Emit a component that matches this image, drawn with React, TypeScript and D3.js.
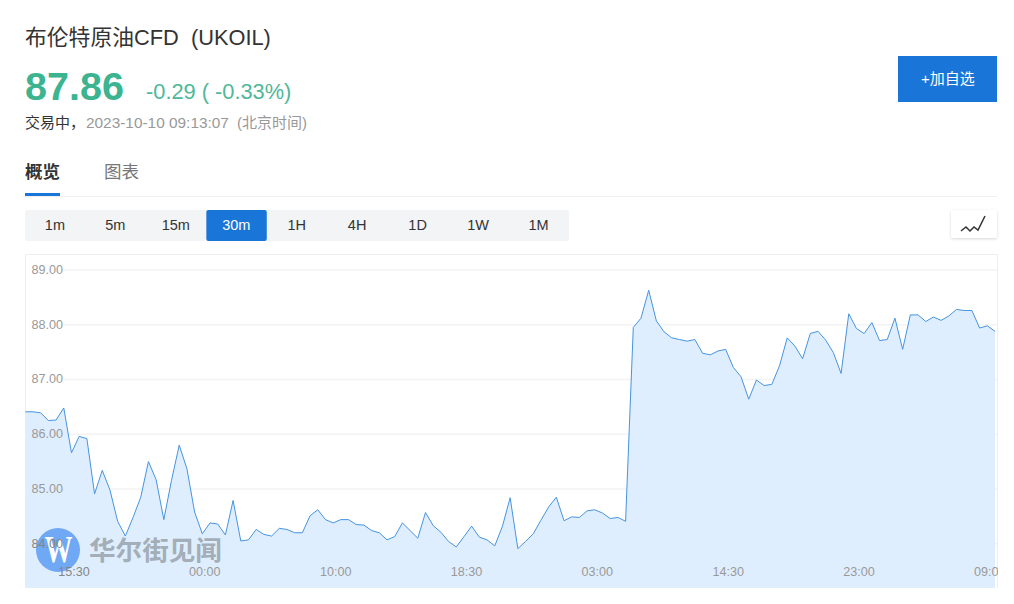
import React from 'react';
import * as d3 from 'd3';

const SANS = '"Liberation Sans", "Noto Sans CJK SC", sans-serif';

const PERIODS = ['1m', '5m', '15m', '30m', '1H', '4H', '1D', '1W', '1M'];
const ACTIVE_PERIOD = '30m';
const Y_TICKS = [84, 85, 86, 87, 88, 89];
const TIME_LABELS = ['15:30', '00:00', '10:00', '18:30', '03:00', '14:30', '23:00', '09:00'];
const TIME_INDEXES = [6, 23, 40, 57, 74, 91, 108, 125];

// 30 minute closes
const PRICES = [
  86.41, 86.41, 86.39, 86.25, 86.26, 86.48, 85.66, 85.96, 85.92, 84.91,
  85.34, 84.98, 84.41, 84.14, 84.48, 84.85, 85.50, 85.17, 84.44, 85.16,
  85.80, 85.37, 84.58, 84.18, 84.38, 84.36, 84.16, 84.79, 84.05, 84.07,
  84.26, 84.17, 84.14, 84.28, 84.26, 84.20, 84.20, 84.51, 84.62, 84.44,
  84.38, 84.44, 84.44, 84.35, 84.34, 84.24, 84.20, 84.07, 84.13, 84.38,
  84.24, 84.10, 84.57, 84.33, 84.21, 84.04, 83.94, 84.13, 84.32, 84.12,
  84.07, 83.96, 84.32, 84.84, 83.91, 84.04, 84.18, 84.43, 84.67, 84.85,
  84.42, 84.49, 84.48, 84.60, 84.62, 84.56, 84.46, 84.48, 84.41, 87.95,
  88.12, 88.63, 88.07, 87.87, 87.76, 87.73, 87.70, 87.73, 87.48, 87.45,
  87.52, 87.55, 87.22, 87.05, 86.64, 86.99, 86.89, 86.91, 87.25, 87.76,
  87.61, 87.38, 87.84, 87.88, 87.72, 87.49, 87.11, 88.20, 87.93, 87.84,
  88.04, 87.71, 87.73, 88.12, 87.55, 88.18, 88.18, 88.06, 88.14, 88.08,
  88.16, 88.28, 88.26, 88.26, 87.94, 87.98, 87.88,
];

const BLUE = '#1976d8';
const GREEN = '#3cb48f';

export default function App() {
  const BOX = { left: 25, right: 998, top: 254, bottom: 588 };

  const x = d3.scalePoint<number>()
    .domain(d3.range(PRICES.length))
    .range([25.3, 995]);
  const y = d3.scaleLinear().domain([84, 89]).range([543.7, 270]);

  const line = d3.line<number>()
    .x((_, i) => x(i) as number)
    .y(d => y(d));
  const area = d3.area<number>()
    .x((_, i) => x(i) as number)
    .y0(BOX.bottom)
    .y1(d => y(d));

  const periodX = d3.scaleBand<string>()
    .domain(PERIODS)
    .range([25, 569]);

  return (
    <svg width={1014} height={604} style={{ position: 'absolute', left: 0, top: 0, display: 'block', fontFamily: SANS }}>
      <defs>
        <clipPath id="plot">
          <rect x={BOX.left} y={BOX.top} width={BOX.right - BOX.left} height={BOX.bottom - BOX.top} />
        </clipPath>
        <filter id="soft" x="-20%" y="-20%" width="140%" height="150%">
          <feDropShadow dx="0" dy="1" stdDeviation="1.5" floodColor="#000" floodOpacity="0.16" />
        </filter>
      </defs>

      {/* header */}
      <text x={25} y={45} fontSize={21.8} fill="#333" style={{ whiteSpace: 'pre' }}>布伦特原油CFD  (UKOIL)</text>
      <text x={25} y={100} fontSize={39.5} fontWeight={700} fill={GREEN}>87.86</text>
      <text x={146} y={99} fontSize={21.8} fill="#4fb898">-0.29 ( -0.33%)</text>
      <text x={25} y={128} fontSize={15} fill="#333">交易中，</text>
      <text x={86} y={128} fontSize={15.4} fill="#999">2023-10-10 09:13:07</text>
      <text x={237} y={128} fontSize={15} fill="#999">(北京时间)</text>

      <rect x={898} y={56} width={99} height={46} fill={BLUE} />
      <text x={948} y={84} fontSize={15} fill="#fff" textAnchor="middle">+加自选</text>

      {/* tabs */}
      <text x={25} y={178} fontSize={17.5} fontWeight={700} fill="#333">概览</text>
      <text x={104} y={178} fontSize={17.5} fill="#777">图表</text>
      <line x1={25} x2={997} y1={196.5} y2={196.5} stroke="#f0f0f0" />
      <rect x={25} y={193} width={35} height={3} fill={BLUE} />

      {/* period buttons */}
      <rect x={25} y={210} width={544} height={31} rx={2} fill="#f2f4f6" />
      {PERIODS.map(p => {
        const bx = periodX(p) as number;
        const bw = periodX.bandwidth();
        return (
          <g key={p}>
            {p === ACTIVE_PERIOD && <rect x={bx} y={210} width={bw} height={31} rx={2} fill={BLUE} />}
            <text x={bx + bw / 2 - 0.3} y={230} fontSize={14.5} textAnchor="middle" fill={p === ACTIVE_PERIOD ? '#fff' : '#333'}>{p}</text>
          </g>
        );
      })}

      {/* chart type toggle */}
      <rect x={951} y={210} width={46} height={28} rx={2} fill="#fff" filter="url(#soft)" />
      <polyline points="961,231 966,227 970,231 974,227 978,230 985,216" fill="none" stroke="#333" strokeWidth={1.5} />

      {/* chart frame */}
      <path d={`M${BOX.left + 0.5},${BOX.bottom} V${BOX.top + 0.5} H${BOX.right - 0.5} V${BOX.bottom}`} fill="none" stroke="#eeeeee" />

      {Y_TICKS.map(t => (
        <line key={t} x1={64} x2={BOX.right - 1} y1={y(t)} y2={y(t)} stroke="#f3f3f3" strokeWidth={1.5} />
      ))}

      <path d={area(PRICES) as string} fill="#dfeefe" />
      <path d={line(PRICES) as string} fill="none" stroke="#4694e0" strokeWidth={1} />

      {/* watermark */}
      <circle cx={58} cy={550} r={22} fill="#6fa8f4" />
      <text x={58.5} y={562} fontSize={37} fontWeight={700} fontFamily='"Liberation Serif", serif' fill="#fff" textAnchor="middle" textLength={28} lengthAdjust="spacingAndGlyphs">W</text>
      <text x={89} y={560} fontSize={26.6} fontWeight={700} fontFamily='"Noto Sans CJK SC", sans-serif' fill="#a3aeb9">华尔街见闻</text>

      {Y_TICKS.map(t => (
        <text key={t} x={31.5} y={y(t) + 4} fontSize={12.6} fill={t === 84 ? '#858585' : '#999'}>{t.toFixed(2)}</text>
      ))}

      <g clipPath="url(#plot)">
        {TIME_LABELS.map((label, i) => (
          <text key={label} x={(x(TIME_INDEXES[i]) as number) + 2.5} y={576} fontSize={12.6} fill={i === 0 ? '#858585' : '#999'} textAnchor="middle">{label}</text>
        ))}
      </g>
    </svg>
  );
}
